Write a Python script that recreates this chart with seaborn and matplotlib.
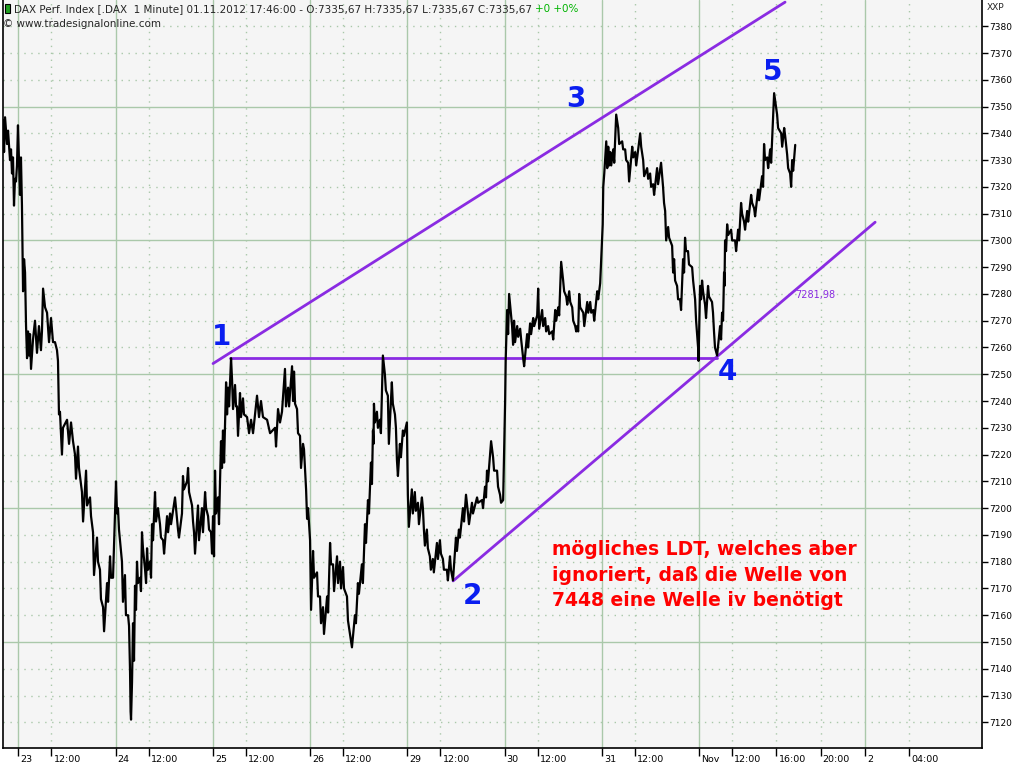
import pandas as pd
import seaborn as sns
import matplotlib.pyplot as plt
from matplotlib import transforms
from matplotlib.patches import Rectangle

# time axis = trading hours since 23.10.2012 09:00 (one session ~ 8.8 h)
hours = [
    # 22.10 (tail)
    -1.38, -1.29, -1.20, -1.02, -0.93, -0.75, -0.66, -0.57, -0.48, -0.39, -0.30, -0.21, -0.12,
    # 23.10
    -0.03, 0.06, 0.15, 0.24, 0.33, 0.43, 0.52, 0.61, 0.70, 0.79, 0.88, 0.97,
    1.06, 1.15, 1.33, 1.51, 1.69, 1.87, 2.05, 2.14, 2.24, 2.42, 2.60, 2.78,
    2.96, 3.14, 3.32, 3.50, 3.59, 3.68, 3.77, 3.95, 4.04, 4.41, 4.59, 4.77,
    4.95, 5.13, 5.22, 5.40, 5.49, 5.76, 5.86, 6.13, 6.22, 6.49, 6.58, 6.76,
    6.85, 7.12, 7.21, 7.39, 7.48, 7.67, 7.76, 8.03, 8.12, 8.30, 8.39, 8.57,
    # 24.10
    8.84, 8.93, 9.02, 9.11, 9.38, 9.47, 9.65, 9.74, 9.93, 10.02, 10.11, 10.16,
    10.20, 10.29, 10.38, 10.47, 10.56, 10.65, 10.74, 10.83, 11.01, 11.10, 11.19, 11.28,
    11.47, 11.56, 11.65, 11.74, 11.92, 12.01, 12.10, 12.19, 12.37, 12.46, 12.64, 12.73,
    12.82, 12.91, 13.10, 13.19, 13.46, 13.55, 13.73, 13.82, 14.18, 14.27, 14.45, 14.54,
    14.81, 14.90, 14.99, 15.27, 15.36, 15.45, 15.72, 15.81, 15.90, 15.99, 16.26, 16.35,
    16.62, 16.71, 16.90, 16.99, 17.17, 17.26, 17.44, 17.53,
    # 25.10
    17.62, 17.71, 17.80, 17.89, 18.07, 18.16, 18.34, 18.43, 18.52, 18.62, 18.80, 18.89,
    18.98, 19.07, 19.25, 19.34, 19.43, 19.61, 19.70, 19.79, 19.88, 20.06, 20.15, 20.33,
    20.42, 20.70, 20.88, 21.06, 21.24, 21.60, 21.78, 21.96, 22.14, 22.51, 22.78, 23.23,
    23.32, 23.50, 23.68, 23.86, 24.13, 24.22, 24.41, 24.50, 24.77, 24.86, 24.95, 25.04,
    25.22, 25.31, 25.49, 25.58, 25.76, 25.85, 26.04, 26.13, 26.22,
    # 26.10
    26.40, 26.49, 26.67, 26.76, 27.03, 27.12, 27.30, 27.39, 27.57, 27.66, 27.94, 28.03,
    28.21, 28.30, 28.48, 28.57, 28.84, 28.93, 29.11, 29.20, 29.38, 29.47, 29.74, 29.83,
    30.19, 30.46, 30.55, 30.73, 30.82, 31.09, 31.18, 31.37, 31.46, 31.64, 31.73, 31.91,
    32.00, 32.09, 32.14, 32.18, 32.27, 32.45, 32.54, 32.72, 32.81, 32.99, 33.17, 33.26,
    33.44, 33.53, 33.80, 33.89, 34.08, 34.17, 34.26, 34.35, 34.53, 34.62, 34.80, 34.89, 35.16,
    # 29.10
    35.25, 35.34, 35.61, 35.70, 35.88, 35.97, 36.16, 36.25, 36.52, 36.61, 36.70, 36.79,
    36.97, 37.06, 37.24, 37.33, 37.51, 37.60, 37.88, 37.97, 38.15, 38.24, 38.42, 38.51,
    38.78, 38.87, 39.06, 39.15, 39.33, 39.60, 39.69, 39.87, 39.96, 40.23, 40.33, 40.51,
    40.69, 40.78, 41.05, 41.14, 41.51, 41.60, 41.96, 42.05, 42.23, 42.32, 42.41, 42.50,
    42.78, 42.96, 43.05, 43.32, 43.41, 43.59, 43.68, 43.87,
    # 30.10
    44.05, 44.10, 44.23, 44.32, 44.41, 44.68, 44.77, 44.86, 44.95, 45.14, 45.23, 45.41,
    45.50, 45.68, 45.77, 46.04, 46.13, 46.31, 46.40, 46.59, 46.68, 46.95, 47.04, 47.13,
    47.40, 47.49, 47.67, 47.76, 47.94, 48.04, 48.31, 48.40, 48.58, 48.67, 48.85, 48.94,
    49.12, 49.30, 49.39, 49.58, 49.67, 49.85, 49.94, 50.12, 50.21, 50.39, 50.48, 50.57,
    50.66, 50.75, 50.84, 51.12, 51.21, 51.48, 51.57, 51.75, 51.84, 52.02, 52.11, 52.38, 52.47, 52.65,
    # 31.10
    52.84, 52.88, 52.93, 53.02, 53.20, 53.29, 53.38, 53.47, 53.56, 53.65, 53.83, 53.92,
    54.10, 54.28, 54.37, 54.64, 54.73, 54.91, 55.00, 55.18, 55.27, 55.55, 55.64, 55.82,
    55.91, 56.27, 56.36, 56.54, 56.63, 56.90, 56.99, 57.17, 57.26, 57.44, 57.53, 57.80,
    57.89, 58.16, 58.34, 58.43, 58.53, 58.62, 58.80, 58.89, 59.16, 59.25, 59.34, 59.43,
    59.61, 59.70, 59.88, 59.97, 60.15, 60.24, 60.33, 60.42, 60.60, 60.69, 60.97, 61.06,
    61.24, 61.33, 61.51, 61.55,
    # 01.11
    61.69, 61.78, 61.87, 61.96, 62.14, 62.23, 62.41, 62.50, 62.77, 62.86, 62.95, 63.04,
    63.23, 63.50, 63.59, 63.68, 63.77, 63.86, 63.90, 63.95, 64.04, 64.14, 64.23, 64.50,
    64.59, 64.86, 64.95, 65.13, 65.22, 65.40, 65.49, 65.67, 65.76, 65.95, 66.04, 66.31,
    66.40, 66.58, 66.67, 66.94, 67.03, 67.30, 67.39, 67.48, 67.57, 67.76, 67.85, 68.03,
    68.12, 68.39, 68.66, 68.75, 69.03, 69.12, 69.30, 69.39, 69.57, 69.66, 69.84, 69.93,
    70.02, 70.11, 70.30,
]

prices = [
    7345, 7333, 7346, 7336, 7341, 7330, 7334, 7325, 7331, 7313, 7323, 7322, 7328,
    7343, 7330, 7317, 7331, 7313, 7281, 7293, 7288, 7268, 7256, 7266, 7257,
    7265, 7252, 7263, 7270, 7258, 7268, 7259, 7266, 7282, 7275, 7273, 7262,
    7271, 7262, 7262, 7259, 7255, 7235, 7236, 7220, 7230, 7233, 7224, 7232,
    7225, 7220, 7211, 7223, 7215, 7206, 7195, 7214, 7201, 7204, 7197, 7191,
    7175, 7189, 7180, 7177, 7166, 7163, 7154, 7172, 7165, 7182, 7174, 7174,
    7210, 7198, 7200, 7192, 7180, 7165, 7175, 7160, 7160, 7156, 7139, 7124,
    7121, 7135, 7157, 7143, 7171, 7162, 7180, 7172, 7174, 7169, 7191, 7185,
    7177, 7172, 7185, 7177, 7180, 7174, 7194, 7188, 7206, 7195, 7200, 7197,
    7194, 7189, 7188, 7183, 7197, 7191, 7198, 7194, 7204, 7200, 7192, 7189,
    7198, 7212, 7207, 7210, 7215, 7206, 7201, 7195, 7191, 7183, 7201, 7188,
    7200, 7191, 7206, 7200, 7197, 7192, 7191, 7183,
    7197, 7182, 7214, 7198, 7204, 7194, 7225, 7215, 7229, 7217, 7247, 7235,
    7245, 7238, 7256, 7248, 7237, 7246, 7238, 7238, 7227, 7243, 7234, 7241,
    7235, 7234, 7228, 7233, 7228, 7242, 7234, 7240, 7234, 7233, 7228, 7230,
    7223, 7237, 7232, 7236, 7252, 7238, 7245, 7238, 7253, 7240, 7251, 7239,
    7237, 7228, 7227, 7215, 7224, 7222, 7207, 7196, 7200,
    7188, 7162, 7184, 7174, 7176, 7167, 7167, 7157, 7163, 7153, 7167, 7161,
    7187, 7179, 7179, 7169, 7182, 7172, 7180, 7170, 7178, 7170, 7167, 7158,
    7148, 7160, 7157, 7172, 7168, 7179, 7172, 7194, 7187, 7203, 7198, 7217,
    7209, 7229, 7224, 7239, 7232, 7236, 7230, 7233, 7228, 7257, 7250, 7244,
    7242, 7224, 7247, 7239, 7235, 7230, 7218, 7212, 7224, 7219, 7229, 7227, 7232,
    7205, 7193, 7207, 7198, 7206, 7199, 7202, 7194, 7204, 7200, 7192, 7186,
    7192, 7185, 7182, 7177, 7181, 7176, 7187, 7181, 7188, 7183, 7181, 7177,
    7177, 7173, 7182, 7177, 7173, 7189, 7184, 7192, 7189, 7200, 7195, 7205,
    7198, 7194, 7202, 7198, 7204, 7202, 7203, 7200, 7208, 7204, 7214, 7210,
    7225, 7219, 7214, 7214, 7208, 7205, 7202, 7203,
    7240, 7255, 7274, 7265, 7280, 7268, 7261, 7270, 7262, 7268, 7264, 7267,
    7263, 7256, 7253, 7265, 7260, 7269, 7265, 7271, 7268, 7272, 7282, 7267,
    7274, 7268, 7271, 7266, 7268, 7265, 7266, 7263, 7274, 7270, 7275, 7272,
    7292, 7285, 7281, 7279, 7276, 7281, 7277, 7275, 7270, 7268, 7266, 7268,
    7266, 7280, 7275, 7273, 7268, 7277, 7273, 7277, 7273, 7274, 7270, 7281, 7278, 7284,
    7302, 7306, 7320, 7325, 7337, 7327, 7335, 7328, 7333, 7328, 7334, 7329,
    7347, 7342, 7336, 7337, 7334, 7334, 7330, 7329, 7322, 7335, 7331, 7333,
    7328, 7340, 7335, 7330, 7324, 7327, 7323, 7325, 7320, 7321, 7317, 7327,
    7321, 7329, 7320, 7314, 7311, 7300, 7305, 7301, 7298, 7288, 7293, 7285,
    7283, 7278, 7278, 7274, 7293, 7288, 7301, 7296, 7296, 7291, 7290, 7285,
    7278, 7270, 7260, 7255,
    7283, 7278, 7285, 7281, 7276, 7271, 7283, 7279, 7277, 7273, 7266, 7260,
    7257, 7268, 7263, 7273, 7270, 7288, 7283, 7300, 7296, 7306, 7302, 7304,
    7300, 7300, 7296, 7304, 7300, 7314, 7310, 7307, 7304, 7311, 7307, 7317,
    7314, 7312, 7309, 7319, 7315, 7324, 7320, 7336, 7330, 7331, 7327, 7334,
    7329, 7355, 7347, 7342, 7340, 7335, 7342, 7339, 7332, 7327, 7325, 7320,
    7330, 7326, 7335.67,
]

day_ticks = [0, 8.8, 17.6, 26.4, 35.2, 44.0, 52.8, 61.6, 76.6]
day_labels = ['23', '24', '25', '26', '29', '30', '31', 'Nov', '2']
hour_ticks = [3.0, 11.8, 20.6, 29.4, 38.2, 47.0, 55.8, 64.6, 68.6, 72.6, 80.6]
hour_labels = ['12:00'] * 8 + ['16:00', '20:00', '04:00']
price_ticks = list(range(7120, 7390, 10))

# drawn trend lines (start / end)
upper_x, upper_y = [17.62, 69.38], [7254, 7389]
flat_x, flat_y = [19.16, 63.23], [7256, 7256]
lower_x, lower_y = [39.34, 77.53], [7172.8, 7306.8]
lower_label_x, lower_label_y = 70.3, 7279.5

wave_names = ['1', '2', '3', '4', '5']
wave_x = [18.36, 41.06, 50.47, 64.14, 68.21]
wave_y = [7264, 7167, 7353, 7251, 7363]

note = 'mögliches LDT, welches aber\nignoriert, daß die Welle von\n7448 eine Welle iv benötigt'

sns.set_style('white')
plt.rcParams['font.family'] = ['DejaVu Sans']

fig = plt.figure(figsize=(10.24, 7.68), dpi=100)
ax = fig.add_axes([3 / 1024, 20 / 768, 979 / 1024, 748 / 768])
ax.set_facecolor('#f5f5f5')

grid_color = '#aac8aa'
dots = (0, (1, 4))
for t in day_ticks:
    ax.axvline(t, color=grid_color, lw=1, zorder=0)
for t in hour_ticks:
    ax.axvline(t, color=grid_color, lw=1, ls=dots, zorder=0)
for p in price_ticks:
    ax.axhline(p, color=grid_color, lw=1, ls='-' if p % 50 == 0 else dots, zorder=0)

purple = '#8a2be2'
sns.lineplot(x=upper_x, y=upper_y, ax=ax, color=purple, linewidth=2)
sns.lineplot(x=flat_x, y=flat_y, ax=ax, color=purple, linewidth=2)
sns.lineplot(x=lower_x, y=lower_y, ax=ax, color=purple, linewidth=2)

df = pd.DataFrame({'hours': hours, 'price': prices})
sns.lineplot(data=df, x='hours', y='price', ax=ax, color='black', linewidth=1.6,
             sort=False, estimator=None)

ax.text(lower_label_x, lower_label_y, '7281,98', color=purple, fontsize=7,
        ha='left', va='center')

for name, x, y in zip(wave_names, wave_x, wave_y):
    ax.text(x, y, name, color='#0a1ef0', fontsize=20, fontweight='bold',
            ha='center', va='center')

ax.text(48.3, 7188.0, note, color='#ff0000', fontsize=13.5, fontweight='bold',
        ha='left', va='top', linespacing=1.42)

ax.set_xlim(-1.385, 87.2)
ax.set_ylim(7110.4, 7389.8)
ax.set_xlabel('')
ax.set_ylabel('')

ax.yaxis.tick_right()
ax.set_yticks(price_ticks, [str(p) for p in price_ticks])
ax.tick_params(axis='y', direction='out', length=4, width=1, pad=1,
               labelsize=6.5, right=True, left=False, colors='black')

xt = sorted(zip(day_ticks + hour_ticks, day_labels + hour_labels))
ax.set_xticks([t for t, _ in xt], [lab for _, lab in xt])
ax.tick_params(axis='x', direction='out', length=6, width=1, pad=-1,
               labelsize=6.8, bottom=True, colors='black')
shift = transforms.ScaledTranslation(2 / 100, 0, fig.dpi_scale_trans)
for lbl in ax.get_xticklabels():
    lbl.set_ha('left')
    lbl.set_transform(lbl.get_transform() + shift)

for side in ['left', 'right', 'bottom']:
    ax.spines[side].set_visible(True)
    ax.spines[side].set_color('black')
    ax.spines[side].set_linewidth(1.2)
ax.spines['top'].set_visible(False)

# header
fig.add_artist(Rectangle((5 / 1024, 1 - 13 / 768), 5 / 1024, 9 / 768, transform=fig.transFigure,
                         facecolor='#1fa01f', edgecolor='black', lw=0.8))
hdr = fig.text(14 / 1024, 1 - 9 / 768,
               'DAX Perf. Index [.DAX  1 Minute] 01.11.2012 17:46:00 - '
               'O:7335,67 H:7335,67 L:7335,67 C:7335,67 ',
               fontsize=7.5, va='center', ha='left')
ax.annotate('+0 +0%', xy=(1, 0), xycoords=hdr, va='bottom', ha='left',
            fontsize=7.5, color='#00b400')
fig.text(3 / 1024, 1 - 24 / 768, '© www.tradesignalonline.com', fontsize=7.5,
         va='center', ha='left')
fig.text(987 / 1024, 1 - 8 / 768, 'XXP', fontsize=6.5, va='center', ha='left')

fig.savefig('out.png', dpi=100, facecolor='white')
